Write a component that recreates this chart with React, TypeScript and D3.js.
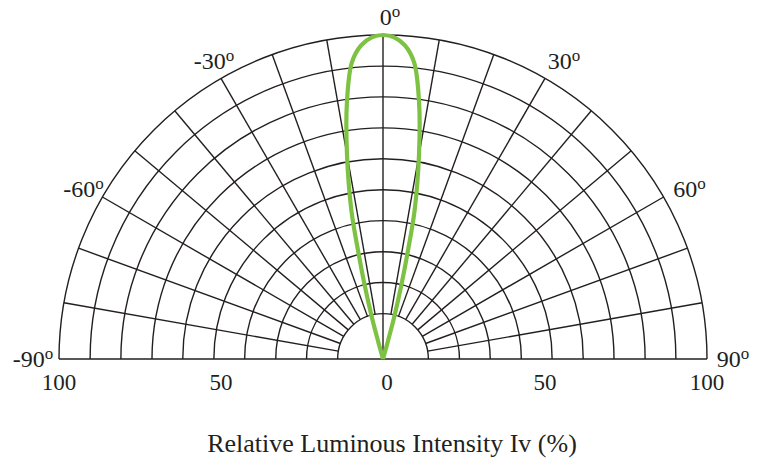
import * as d3 from "d3";

// beam pattern (relative luminous intensity, %) against angle (deg)
const beamAngles = [-16, -15.5, -15, -14, -13, -12, -10, -8, -6, -4, -2, 0, 2, 4, 6, 8, 10, 12, 13, 14, 15, 15.5, 16];
const beamIntensity = [0, 5, 13, 23, 34, 47, 64, 80, 92, 97, 99.3, 100, 99.3, 97, 92, 80, 64, 47, 34, 23, 13, 5, 0];

// grid
const ringValues = [14, 23.6, 33.1, 42.7, 52.2, 61.8, 71.3, 80.9, 90.4, 100];
const spokeAngles = [-80, -70, -60, -50, -40, -30, -20, -10, 10, 20, 30, 40, 50, 60, 70, 80];
const angleLabels = [-90, -60, -30, 0, 30, 60, 90];
const scaleLabels = [100, 50, 0, 50, 100];
const scaleLabelSide = [-1, -1, 0, 1, 1];

const W = 764;
const H = 459;
const cx = 383;
const cy = 359;
const R = 324;

export default function App() {
  const r = d3.scaleLinear().domain([0, 100]).range([0, R]);
  const rad = (a: number) => (a * Math.PI) / 180;
  const ink = "#231f20";

  const ringPath = (v: number) => {
    const p = d3.path();
    p.moveTo(-r(v), 0);
    p.arc(0, 0, r(v), Math.PI, 0);
    return p.toString();
  };

  const beam = d3
    .lineRadial<number>()
    .angle((_, i) => rad(beamAngles[i]))
    .radius((d) => r(d))
    .curve(d3.curveCatmullRom.alpha(0.5));

  const inner = r(ringValues[0]);

  return (
    <svg width={W} height={H} style={{ position: "absolute", left: 0, top: 0, background: "#fff" }}
      fontFamily="'Liberation Serif', 'Times New Roman', serif">
      <g transform={`translate(${cx},${cy})`}>
        {ringValues.map((v, i) => (
          <path key={"ring" + i} d={ringPath(v)} fill="none" stroke={ink} strokeWidth={1.4} />
        ))}
        {spokeAngles.map((a) => {
          const [x0, y0] = d3.pointRadial(rad(a), inner);
          const [x1, y1] = d3.pointRadial(rad(a), R);
          return <line key={"sp" + a} x1={x0} y1={y0} x2={x1} y2={y1} stroke={ink} strokeWidth={1.4} />;
        })}
        <line x1={0} y1={0} x2={0} y2={-R} stroke={ink} strokeWidth={1.4} />
        <line x1={-R} y1={0} x2={R} y2={0} stroke={ink} strokeWidth={1.7} />

        <path d={beam(beamIntensity) ?? ""} fill="none" stroke="#7dc242" strokeWidth={4.2}
          strokeLinejoin="round" />

        {angleLabels.map((a) => {
          const [x, y] = d3.pointRadial(rad(a), a === 0 ? 342 : 350);
          const edge = a === 0 || Math.abs(a) === 90;
          return (
            <text key={"al" + a} x={x + 7 * Math.cos(rad(a))} y={y} dy={edge ? "0.35em" : "0.55em"}
              textAnchor="middle" fontSize={24} fill={ink}>
              {a}
              <tspan fontSize={17} dy="-0.5em">o</tspan>
            </text>
          );
        })}

        {scaleLabels.map((v, i) => (
          <text key={"sl" + i} x={scaleLabelSide[i] * r(v) + (scaleLabelSide[i] === 0 ? 4 : 0)} y={31}
            textAnchor="middle" fontSize={23} fill={ink}>
            {v}
          </text>
        ))}
      </g>
      <text x={cx + 9} y={452} textAnchor="middle" fontSize={26} fill={ink}>
        Relative Luminous Intensity Iv (%)
      </text>
    </svg>
  );
}
